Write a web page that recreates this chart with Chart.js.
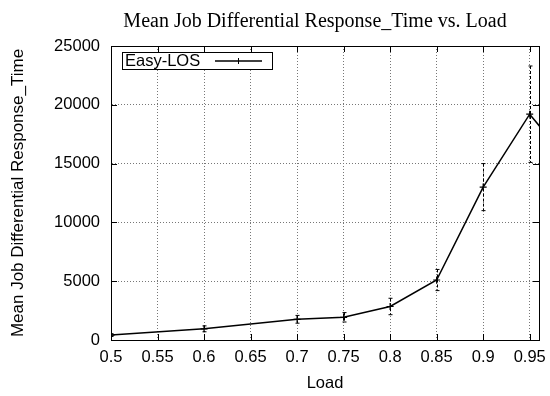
<!DOCTYPE html>
<html>
<head>
<meta charset="utf-8">
<script src="https://cdn.jsdelivr.net/npm/chart.js@4.4.1/dist/chart.umd.min.js"></script>
<style>
html,body{margin:0;padding:0;background:#fff;}
#wrap{width:550px;height:396px;}
</style>
</head>
<body>
<div id="wrap"><canvas id="c" width="550" height="396"></canvas></div>
<script>
const chartTitle = "Mean Job Differential Response_Time vs. Load";
const seriesLabel = "Easy-LOS";
const xTitle = "Load";
const yTitle = "Mean Job Differential Response_Time";
const loads = [0.5, 0.6, 0.7, 0.75, 0.8, 0.85, 0.9, 0.95, 0.975];
const meanResponse = [420, 950, 1760, 1930, 2850, 5100, 13000, 19200, 16800];
const errResponse = [120, 250, 330, 400, 700, 900, 2000, 4100, 3000];
const xTicks = [0.5, 0.55, 0.6, 0.65, 0.7, 0.75, 0.8, 0.85, 0.9, 0.95];
const yTicks = [0, 5000, 10000, 15000, 20000, 25000];

const SANS = "'Liberation Sans', Arial, sans-serif";
const SERIF = "'Liberation Serif', 'Times New Roman', serif";

const decorPlugin = {
  id: 'decor',
  afterDatasetsDraw(chart) {
    const ctx = chart.ctx, ca = chart.chartArea;
    const xs = chart.scales.x, ys = chart.scales.y;
    ctx.save();
    ctx.beginPath();
    ctx.rect(ca.left, ca.top, ca.right - ca.left, ca.bottom - ca.top);
    ctx.clip();
    ctx.strokeStyle = '#000';
    ctx.lineWidth = 1;
    loads.forEach((l, i) => {
      const px = Math.round(xs.getPixelForValue(l)) + 0.5;
      const yt = ys.getPixelForValue(meanResponse[i] + errResponse[i]);
      const yb = ys.getPixelForValue(meanResponse[i] - errResponse[i]);
      ctx.setLineDash([3, 2]);
      ctx.beginPath();
      ctx.moveTo(px, yt); ctx.lineTo(px, yb); ctx.stroke();
      ctx.setLineDash([]);
      ctx.beginPath();
      ctx.moveTo(px - 2, yt); ctx.lineTo(px + 2, yt);
      ctx.moveTo(px - 2, yb); ctx.lineTo(px + 2, yb);
      ctx.stroke();
    });
    ctx.restore();
  },
  afterDraw(chart) {
    const ctx = chart.ctx, ca = chart.chartArea;
    const xs = chart.scales.x, ys = chart.scales.y;
    ctx.save();
    ctx.strokeStyle = '#000';
    ctx.lineWidth = 1;
    ctx.setLineDash([]);
    ctx.strokeRect(Math.round(ca.left) + 0.5, Math.round(ca.top) + 0.5,
      Math.round(ca.right - ca.left), Math.round(ca.bottom - ca.top));
    ctx.beginPath();
    xTicks.forEach(v => {
      const px = Math.round(xs.getPixelForValue(v)) + 0.5;
      ctx.moveTo(px, ca.bottom); ctx.lineTo(px, ca.bottom - 6);
      ctx.moveTo(px, ca.top); ctx.lineTo(px, ca.top + 6);
    });
    yTicks.forEach(v => {
      const py = Math.round(ys.getPixelForValue(v)) + 0.5;
      ctx.moveTo(ca.left, py); ctx.lineTo(ca.left + 6, py);
      ctx.moveTo(ca.right, py); ctx.lineTo(ca.right - 6, py);
    });
    ctx.stroke();
    ctx.fillStyle = '#000';
    ctx.font = "20px " + SERIF;
    ctx.textAlign = 'center';
    ctx.textBaseline = 'alphabetic';
    ctx.fillText(chartTitle, 315, 27);
    const lx = 122, ly = ca.top + 6, lw = 150, lh = 17;
    ctx.fillStyle = '#fff';
    ctx.fillRect(lx, ly, lw, lh);
    ctx.strokeRect(lx + 0.5, Math.round(ly) + 0.5, lw, lh);
    ctx.fillStyle = '#000';
    ctx.font = "16.5px " + SANS;
    ctx.textAlign = 'left';
    ctx.textBaseline = 'middle';
    ctx.fillText(seriesLabel, 125, ly + lh / 2 + 1);
    ctx.lineWidth = 1.5;
    ctx.beginPath();
    ctx.moveTo(215, ly + 9); ctx.lineTo(262, ly + 9);
    ctx.stroke();
    ctx.lineWidth = 1;
    ctx.beginPath();
    ctx.moveTo(238.5, ly + 6); ctx.lineTo(238.5, ly + 12);
    ctx.stroke();
    ctx.restore();
  }
};

new Chart(document.getElementById('c'), {
  type: 'line',
  data: {
    datasets: [{
      label: seriesLabel,
      data: loads.map((l, i) => ({x: l, y: meanResponse[i]})),
      borderColor: '#000',
      backgroundColor: '#000',
      borderWidth: 1.5,
      pointStyle: 'cross',
      pointRadius: 3.5,
      pointBorderWidth: 1.2,
      tension: 0,
      fill: false
    }]
  },
  options: {
    responsive: false,
    animation: false,
    events: [],
    layout: {padding: {top: 46, right: 11, bottom: 0, left: 0}},
    plugins: {
      legend: {display: false},
      title: {display: false},
      tooltip: {enabled: false}
    },
    scales: {
      x: {
        type: 'linear',
        min: 0.5,
        max: 0.96,
        afterBuildTicks: s => { s.ticks = xTicks.map(v => ({value: v})); },
        afterFit: s => { s.height = 56; s.paddingLeft = 0; s.paddingRight = 0; },
        ticks: {
          color: '#000',
          font: {family: SANS, size: 16.5},
          padding: 8,
          maxRotation: 0,
          autoSkip: false,
          callback: v => String(Math.round(v * 100) / 100)
        },
        grid: {color: '#777', lineWidth: 1, drawTicks: false},
        border: {display: true, color: '#000', dash: [1, 2]},
        title: {display: true, text: xTitle, color: '#000', font: {family: SANS, size: 16.5}, padding: {top: 0, bottom: 3}}
      },
      y: {
        type: 'linear',
        min: 0,
        max: 25000,
        afterBuildTicks: s => { s.ticks = yTicks.map(v => ({value: v})); },
        afterFit: s => { s.width = 111; s.paddingTop = 0; s.paddingBottom = 0; },
        ticks: {
          color: '#000',
          font: {family: SANS, size: 16.5},
          padding: 11,
          autoSkip: false,
          callback: v => String(v)
        },
        grid: {color: '#777', lineWidth: 1, drawTicks: false},
        border: {display: true, color: '#000', dash: [1, 2]},
        title: {display: true, text: yTitle, color: '#000', font: {family: SANS, size: 17}, padding: {top: 8, bottom: 0}}
      }
    }
  },
  plugins: [decorPlugin]
});
</script>
</body>
</html>
